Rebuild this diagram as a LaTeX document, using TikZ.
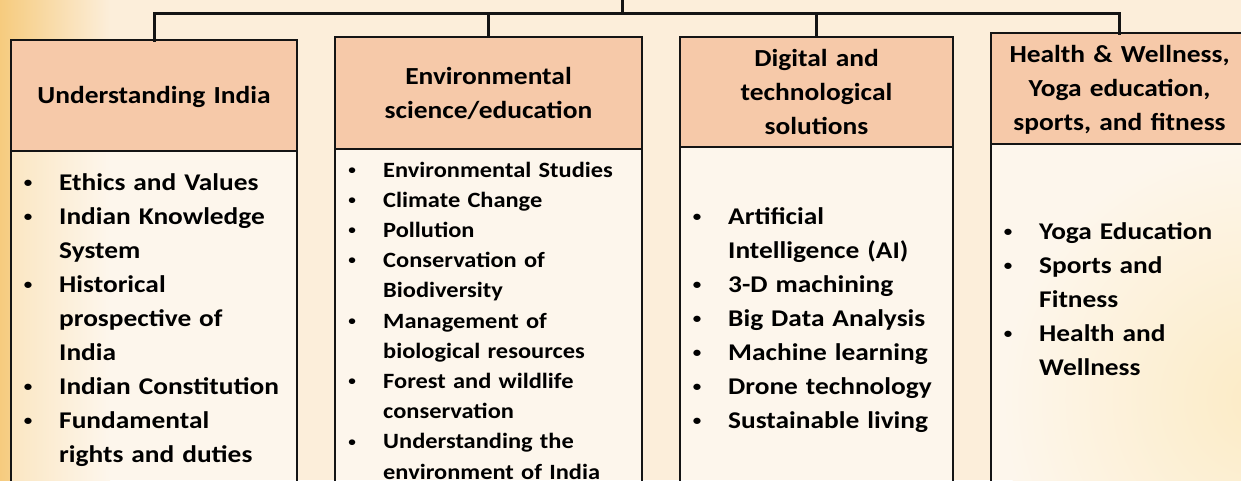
\documentclass[tikz,border=0pt]{standalone}
\usepackage{graphicx}
\usepackage{fontspec}
\setmainfont{Carlito}[FakeStretch=1.12]
\newfontfamily\itemfont{Carlito}[FakeStretch=1.14]
\definecolor{bgc}{HTML}{FCEEDA}
\definecolor{lorange}{HTML}{F6CB7E}
\definecolor{rorange}{HTML}{F9D88C}
\definecolor{hdrc}{HTML}{F6C9A9}
\definecolor{lc}{HTML}{141414}
\newlength\itmind
\newlength\itmbul
\newcommand{\itm}[1]{\hangindent=\itmind\hangafter=1\noindent\hspace*{\itmbul}\makebox[0pt]{\raisebox{0.12em}{\scalebox{0.62}{•}}}\hspace*{\dimexpr\itmind-\itmbul\relax}#1\par}
\tikzset{
  hdr/.style={draw=lc, line width=2.5pt, fill=hdrc, inner sep=0pt, outer sep=0pt},
  bdy/.style={draw=lc, line width=2.5pt, fill=white, fill opacity=0.5, draw opacity=1, inner sep=0pt, outer sep=0pt, anchor=north},
  htext/.style={inner sep=0pt, anchor=base, align=center, font=\fontsize{24.5}{34}\selectfont\bfseries, text=black},
  itemsbig/.style={inner sep=0pt, anchor=base west, align=left, text=black,
    font=\itemfont\fontsize{24}{34}\selectfont\bfseries\raggedright\setlength\itmind{41pt}\setlength\itmbul{10pt}},
  itemssmall/.style={inner sep=0pt, anchor=base west, align=left, text=black,
    font=\fontsize{21.8}{30.2}\selectfont\bfseries\raggedright\setlength\itmind{41pt}\setlength\itmbul{10pt}},
  conn/.style={draw=lc, line width=3pt}
}
\begin{document}
\begin{tikzpicture}[x=1pt, y=-1pt]
\useasboundingbox (0,0) rectangle (1241,480);
\clip (0,0) rectangle (1241,480);
% background
\fill[bgc] (0,0) rectangle (1241,480);
\shade[left color=lorange, right color=bgc] (0,0) rectangle (110,480);
\shade[inner color=rorange, outer color=bgc] (1260,400) circle (260);

% header boxes
\node[hdr, minimum width=286pt, minimum height=111pt] (h1) at (154,95.5) {};
\node[hdr, minimum width=307pt, minimum height=112pt] (h2) at (488.5,93) {};
\node[hdr, minimum width=273pt, minimum height=110pt] (h3) at (816.5,92) {};
\node[hdr, minimum width=257pt, minimum height=111pt] (h4) at (1119.5,88.5) {};

% body boxes
\node[bdy, minimum width=286pt, minimum height=345pt] (b1) at (h1.south) {};
\node[bdy, minimum width=307pt, minimum height=345pt] (b2) at (h2.south) {};
\node[bdy, minimum width=273pt, minimum height=345pt] (b3) at (h3.south) {};
\node[bdy, minimum width=257pt, minimum height=345pt] (b4) at (h4.south) {};

% connectors
\coordinate (root) at (622,-3);
\coordinate (bus) at (622,13);
\draw[conn] (root) -- (bus);
\draw[conn, line cap=rect] (h1.north) |- (bus);
\draw[conn, line cap=rect] (h4.north) |- (bus);
\draw[conn] (h2.north) -- (h2.north |- bus);
\draw[conn] (h3.north) -- (h3.north |- bus);

% header texts
\node[htext, text width=280pt] (t1) at (154,103) {Understanding India};
\node[htext, text width=300pt] (t2) at (488.5,84) {Environmental\\science/education};
\node[htext, text width=265pt] (t3) at (816.5,66) {Digital and\\technological\\solutions};
\node[htext, text width=250pt] (t4) at (1119.5,62) {Health \& Wellness,\\Yoga education,\\sports, and fitness};

% item lists
\node[itemsbig, text width=275pt] (l1) at (18,190) {%
\itm{Ethics and Values}
\itm{Indian Knowledge\newline System}
\itm{Historical\newline prospective of\newline India}
\itm{Indian Constitution}
\itm{Fundamental\newline rights and duties}};

\node[itemssmall, text width=295pt] (l2) at (342,177) {%
\itm{Environmental Studies}
\itm{Climate Change}
\itm{Pollution}
\itm{Conservation of\newline Biodiversity}
\itm{Management of\newline biological resources}
\itm{Forest and wildlife\newline conservation}
\itm{Understanding the\newline environment of India}};

\node[itemsbig, text width=262pt] (l3) at (687,224) {%
\itm{Artificial\newline Intelligence (AI)}
\itm{3-D machining}
\itm{Big Data Analysis}
\itm{Machine learning}
\itm{Drone technology}
\itm{Sustainable living}};

\node[itemsbig, text width=240pt] (l4) at (998,239) {%
\itm{Yoga Education}
\itm{Sports and\newline Fitness}
\itm{Health and\newline Wellness}};
\end{tikzpicture}
\end{document}
